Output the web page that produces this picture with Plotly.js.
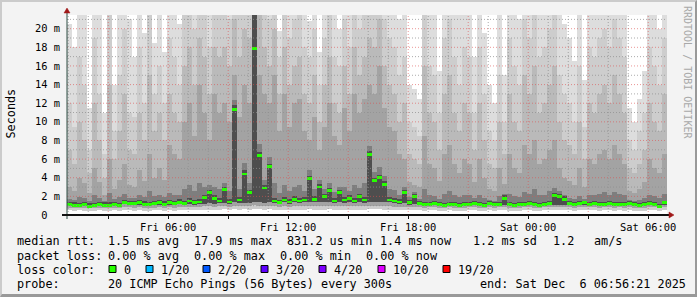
<!DOCTYPE html>
<html><head><meta charset="utf-8">
<script src="https://cdn.plot.ly/plotly-3.0.1.min.js"></script>
<style>
html,body{margin:0;padding:0;background:#f3f3f3;}
#wrap{position:relative;width:697px;height:297px;overflow:hidden;background:#f3f3f3;}
#chart{position:absolute;left:0;top:0;width:697px;height:297px;}
#frame{position:absolute;left:0;top:0;width:697px;height:297px;box-sizing:border-box;border-top:2px solid #cbcbcb;border-left:2px solid #cbcbcb;border-right:2px solid #999;border-bottom:3px solid #999;pointer-events:none;}
</style></head><body>
<div id="wrap"><div id="chart"></div><div id="frame"></div></div>
<script>
// ---------------- data (ms), one value per 15-minute bin, 120 bins ----------------
const smokeHi1 = [20.5,18.0,25,23,11.5,24,22,11.0,26,14.0, 23,25,21,17.0,24,19.5,27,18.5,23,17.5,
  24,25,20.5,26,28,25,30,27,24,29, 28,26,27,30,25,29,27,40,29,27,
  26,29,19.8,27,24,25,26,23,20.8,25, 17.5,24,26,22,20.0,25,23,27,24,26,
  27,25,29,26,24,23,21.0,25,14.0,13.5, 12.5,26,24,23,15.5,25,27,24,22,26,
  24,17.0,25,19.5,14.0,12.0,22,15.0,26,24, 21.0,26,25,27,24,25,26,28,22,20.5,
  19.0,16.5,23,14.5,25,24,26,25,24,27, 26,24,11.5,10.0,12.5,15.5,25,23,20.0,24];
const smokeHi2 = [12,9.5,17,14,7.0,19,13,6.5,22,9.0, 15,20,11,10.5,18,12,23,13,16,12,
  19,17,14,22,24,20,25,23,18,24, 22,24,21,26,22,25,24,32,26,23,
  21,25,17,23,19,21,22,18,17,20, 14,19,22,17,16,21,18,23,20,22,
  23,22,25,21,19,18,15,17,10,9.5, 8.5,22,16,15,11,19,21,17,14,18,
  17,11,18,13,9.0,8.0,15,10,19,16, 14,21,19,22,17,18,20,22,15,13,
  12,10,16,9.5,18,17,19,20,18,21, 19,17,8.0,7.0,9.0,11,18,16,14,19];
const smokeHi3 = [7,5.5,10,8,4.5,12,8,4.0,14,6, 9,13,7,6.5,11,8,15,9,11,8,
  13,11,10,16,18,14,19,17,13,18, 17,18,16,21,17,20,19,30,22,18,
  16,20,13,18,14,16,17,13,12,15, 10,14,17,12,11,16,13,18,15,17,
  19,18,21,16,14,13,10,12,6.5,6.0, 5.5,16,11,10,7,13,15,11,9,12,
  11,7,12,8,5.5,5.0,10,6.5,13,10, 9,15,13,16,11,12,14,16,10,8,
  7.5,6.5,10,6,12,11,13,14,12,15, 13,11,5.0,4.5,5.5,7,12,10,9,13];
const smokeHi4 = [3.0,2.6,4.0,3.4,2.4,5.0,3.5,2.2,6.0,2.8, 3.8,5.5,3.2,3.0,4.8,3.6,6.5,4.0,5.0,3.8,
  7.5,6.5,6.0,10,12,8.5,14,11,8,13, 11,12,10,15,10.5,14,12,28,15,13,
  12,15,9,13,9.5,12,12.5,9,8,10.5, 7,9.5,12,8.5,7.5,11.5,9,13,11,12.5,
  14,13,16,11.5,9.5,9,6.5,6.0,3.5,3.2, 3.0,8.5,5.5,5.0,3.6,6.5,7.5,5.5,4.5,6.0,
  5.5,3.5,6.0,4.0,2.8,2.6,5.0,3.3,6.5,5.0, 4.5,7.5,6.5,8.0,5.5,6.0,7.0,8.0,5.0,4.0,
  3.6,3.2,5.0,3.0,6.0,5.5,6.5,7.0,6.0,7.5, 6.5,5.5,2.6,2.4,2.8,3.5,6.0,5.0,4.5,6.5];
const smokeHi5 = [1.7,1.6,1.9,1.8,1.5,2.2,1.8,1.5,2.4,1.7, 1.9,2.3,1.8,1.8,2.1,1.9,2.6,2.0,2.2,1.9,
  2.4,2.1,2.2,2.8,3.2,2.6,3.4,3.0,3.2,3.0, 2.8,3.4,2.6,12.3,2.8,5.6,3.4,25,7.6,3.8,
  6.2,3.4,2.4,3.2,2.6,3.0,3.2,2.6,4.8,2.8, 3.8,2.8,3.4,2.5,3.0,3.0,2.6,3.2,2.9,3.4,
  7.4,4.6,5.2,4.2,2.8,2.7,2.2,3.0,1.9,2.5, 1.7,2.8,2.1,2.0,1.7,2.3,2.6,2.1,1.9,2.2,
  2.1,1.8,2.2,1.8,1.6,1.5,2.0,2.3,2.3,2.0, 1.9,2.5,2.3,2.8,2.1,2.2,2.6,2.9,2.6,2.2,
  1.8,1.7,2.0,1.7,2.2,2.1,2.3,2.5,2.2,2.5, 2.3,2.1,1.6,1.5,1.6,1.8,2.2,2.0,1.8,2.3];
const smokeHi6 = [1.4,1.35,1.3,1.4,1.25,1.3,1.4,1.35,1.35,1.4, 1.3,1.65,1.55,1.5,1.6,1.45,1.4,1.5,1.6,1.45,
  1.6,1.5,1.7,1.55,1.85,1.6,1.7,2.2,2.7,2.1, 1.8,3.0,1.7,11.8,1.9,4.8,2.7,24,6.8,3.2,
  5.5,1.8,1.6,1.9,1.7,2.0,1.8,1.9,4.2,2.0, 3.3,2.3,2.9,1.8,2.7,1.9,2.1,1.8,2.3,1.9,
  6.9,4.0,4.3,3.6,1.9,1.8,1.7,2.7,1.6,2.3, 1.45,1.35,1.4,1.45,1.35,1.3,1.4,1.35,1.25,1.35,
  1.4,1.45,1.35,1.3,1.45,1.35,1.4,2.1,1.35,1.3, 1.35,1.4,1.45,1.35,1.3,1.4,1.45,2.4,2.3,2.0,
  1.45,1.35,1.5,1.55,1.4,1.45,1.35,1.4,1.45,1.35, 1.4,1.35,1.45,1.35,1.3,1.35,1.45,1.4,1.2,1.55];
const smokeLoA = [0.50,0.45,0.50,0.48,0.42,0.46,0.50,0.47,0.44,0.50, 0.46,0.52,0.50,0.48,0.52,0.47,0.45,0.50,0.52,0.48,
  0.50,0.48,0.52,0.50,0.55,0.50,0.52,0.55,0.58,0.54, 0.55,0.60,0.55,0.62,0.56,0.60,0.58,0.65,0.62,0.58,
  0.60,0.56,0.52,0.58,0.55,0.58,0.56,0.57,0.60,0.56, 0.58,0.57,0.60,0.55,0.58,0.56,0.57,0.55,0.58,0.56,
  0.62,0.60,0.60,0.58,0.56,0.55,0.52,0.55,0.50,0.52, 0.50,0.48,0.50,0.52,0.47,0.46,0.50,0.48,0.45,0.48,
  0.50,0.52,0.48,0.46,0.50,0.48,0.50,0.55,0.48,0.46, 0.48,0.50,0.52,0.48,0.46,0.50,0.52,0.56,0.55,0.52,
  0.50,0.48,0.52,0.54,0.50,0.52,0.48,0.50,0.52,0.48, 0.50,0.48,0.52,0.48,0.46,0.48,0.52,0.50,0.42,0.55];
const smokeLoB = [0.78,0.74,0.72,0.78,0.70,0.72,0.78,0.75,0.72,0.78, 0.72,0.85,0.82,0.80,0.84,0.78,0.76,0.80,0.84,0.78,
  0.84,0.80,0.86,0.82,0.90,0.84,0.88,0.92,0.95,0.90, 0.92,0.98,0.90,1.00,0.92,0.98,0.95,1.05,1.00,0.96,
  1.00,0.94,0.88,0.96,0.90,0.96,0.92,0.95,0.98,0.94, 0.96,0.95,0.98,0.92,0.96,0.93,0.95,0.92,0.96,0.93,
  1.00,0.98,0.98,0.95,0.92,0.90,0.88,0.90,0.84,0.86, 0.84,0.80,0.82,0.84,0.78,0.76,0.82,0.80,0.74,0.80,
  0.82,0.84,0.80,0.76,0.84,0.80,0.82,0.88,0.80,0.76, 0.80,0.82,0.86,0.80,0.76,0.82,0.86,0.90,0.88,0.85,
  0.84,0.80,0.86,0.88,0.82,0.84,0.80,0.82,0.86,0.80, 0.82,0.80,0.86,0.80,0.76,0.80,0.86,0.82,0.70,0.90];
const smokeLoC = [0.96,0.92,0.88,0.96,0.84,0.88,0.96,0.92,0.88,0.96, 0.88,1.15,1.08,1.04,1.12,1.00,0.96,1.04,1.12,1.00,
  1.12,1.04,1.15,1.08,1.20,1.12,1.18,1.20,1.25,1.20, 1.25,1.30,1.20,1.35,1.28,1.32,1.30,1.40,1.35,1.30,
  1.35,1.30,1.15,1.35,1.22,1.38,1.30,1.35,1.40,1.36, 1.38,1.35,1.40,1.30,1.35,1.32,1.40,1.30,1.38,1.32,
  1.40,1.38,1.38,1.35,1.36,1.30,1.22,1.30,1.12,1.20, 1.05,0.96,1.00,1.05,0.96,0.92,1.00,0.96,0.86,0.96,
  1.00,1.05,0.96,0.92,1.05,0.96,1.00,1.10,0.96,0.92, 0.96,1.00,1.05,0.96,0.92,1.00,1.05,1.10,1.10,1.08,
  1.05,0.96,1.08,1.12,1.00,1.05,0.96,1.00,1.05,0.96, 1.00,0.96,1.05,0.96,0.92,0.96,1.05,1.00,0.82,1.12];
const medianRtt = [1.1,1.05,1.0,1.1,0.95,1.0,1.1,1.05,1.0,1.1, 1.0,1.35,1.25,1.2,1.3,1.15,1.1,1.2,1.3,1.15,
  1.3,1.2,1.35,1.25,1.5,1.3,1.4,1.9,2.4,1.8, 1.5,2.7,1.4,11.3,1.6,4.4,2.4,17.9,6.4,2.9,
  5.2,1.5,1.3,1.6,1.4,1.7,1.5,1.6,3.9,1.7, 3.0,2.0,2.6,1.5,2.4,1.6,1.8,1.5,2.0,1.6,
  6.5,3.7,4.0,3.3,1.6,1.5,1.4,2.4,1.3,2.0, 1.2,1.1,1.15,1.2,1.1,1.05,1.15,1.1,1.0,1.1,
  1.15,1.2,1.1,1.05,1.2,1.1,1.15,1.8,1.1,1.05, 1.1,1.15,1.2,1.1,1.05,1.15,1.2,2.1,2.0,1.7,
  1.2,1.1,1.25,1.3,1.15,1.2,1.1,1.15,1.2,1.1, 1.15,1.1,1.2,1.1,1.05,1.1,1.2,1.15,0.95,1.3];

const xTickVals = ['2025-12-05 03:00','2025-12-05 06:00','2025-12-05 09:00','2025-12-05 12:00','2025-12-05 15:00',
  '2025-12-05 18:00','2025-12-05 21:00','2025-12-06 00:00','2025-12-06 03:00','2025-12-06 06:00'];
const xTickText = ['','Fri 06:00','','Fri 12:00','','Fri 18:00','','Sat 00:00','','Sat 06:00'];
const yTickVals = [0,2,4,6,8,10,12,14,16,18,20];
const yTickText = ['0  ','2 m','4 m','6 m','8 m','10 m','12 m','14 m','16 m','18 m','20 m'];

const rttLabels = ['median rtt:','1.5 ms avg','17.9 ms max','831.2 us min','1.4 ms now','1.2 ms sd','1.2','am/s'];
const lossLabels = ['packet loss:','0.00 % avg','0.00 % max','0.00 % min','0.00 % now'];
const lossColorNames = ['0','1/20','2/20','3/20','4/20','10/20','19/20'];
const lossColors = ['#26ff00','#00b8ff','#0059ff','#5e00ff','#7e00ff','#dd00ff','#ff0000'];
const probeLabels = ['probe:','20 ICMP Echo Pings (56 Bytes) every 300s','end: Sat Dec  6 06:56:21 2025'];

// ---------------- layout geometry ----------------
const W = 697, H = 297, PL = 67, PR = 667, PT = 15, PB = 215;
const PW = PR - PL, PH = PB - PT;
const startMs = Date.UTC(2025, 11, 5, 0, 56, 21);
const endMs = Date.UTC(2025, 11, 6, 6, 56, 21);
const binMs = 15 * 60000;
const yMax = 21.47;
const binX = medianRtt.map((_, i) => startMs + (i + 0.5) * binMs);

function px2x(px){ return (px - PL) / PW; }
function py2y(py){ return (PB - py) / PH; }
function nb(s){ return s.replace(/ /g, '\u00a0'); }

const mono = 'DejaVu Sans Mono';
const legendFont = {family: mono, size: 11.8, color: '#000'};

const layers = [
  {hi: smokeHi1, lo: smokeLoA, color: '#dddddd'},
  {hi: smokeHi2, lo: smokeLoA, color: '#cdcdcd'},
  {hi: smokeHi3, lo: smokeLoB, color: '#bababa'},
  {hi: smokeHi4, lo: smokeLoB, color: '#a3a3a3'},
  {hi: smokeHi5, lo: smokeLoC, color: '#7e7e7e'},
  {hi: smokeHi6, lo: smokeLoC, color: '#4e4e4e'}
];
const traces = layers.map(L => ({
  type: 'bar', x: binX, base: L.lo, y: L.hi.map((v, i) => v - L.lo[i]),
  width: binMs, marker: {color: L.color, line: {width: 0}}, hoverinfo: 'skip', showlegend: false
}));
const medHalf = 0.15;
traces.push({
  type: 'bar', x: binX, base: medianRtt.map(v => v - medHalf), y: medianRtt.map(() => 2 * medHalf),
  width: binMs, marker: {color: lossColors[0], line: {width: 0}}, hoverinfo: 'skip', showlegend: false
});

// ---------------- grid (drawn above the smoke, like rrdtool) ----------------
const shapes = [];
const minorCol = 'rgba(143,143,143,0.75)', majorCol = 'rgba(222,80,80,0.6)';
for (let h = 1; h <= 30; h++) {
  const t = Date.UTC(2025, 11, 5, h);
  shapes.push({type: 'line', layer: 'above', xref: 'x', yref: 'paper', x0: t, x1: t, y0: 0, y1: 1,
    line: {color: h % 3 === 0 ? majorCol : minorCol, width: 1, dash: '1px,2px'}});
}
for (let v = 1; v <= 21; v++) {
  shapes.push({type: 'line', layer: 'above', xref: 'paper', yref: 'y', x0: 0, x1: 1, y0: v, y1: v,
    line: {color: v % 2 === 0 ? majorCol : minorCol, width: 1, dash: '1px,2px'}});
}
// axes
shapes.push({type: 'line', layer: 'above', xref: 'paper', yref: 'paper', x0: 0, x1: 0, y0: py2y(219), y1: py2y(12),
  line: {color: '#2c4d43', width: 1}});
shapes.push({type: 'line', layer: 'above', xref: 'paper', yref: 'paper', x0: px2x(62), x1: px2x(669), y0: 0, y1: 0,
  line: {color: '#111', width: 2}});
// arrows
const arrowCol = '#a01818';
shapes.push({type: 'path', layer: 'above', xref: 'paper', yref: 'paper',
  path: `M ${px2x(67)},${py2y(8)} L ${px2x(64)},${py2y(13)} L ${px2x(70)},${py2y(13)} Z`,
  fillcolor: arrowCol, line: {color: arrowCol, width: 0.5}});
shapes.push({type: 'path', layer: 'above', xref: 'paper', yref: 'paper',
  path: `M ${px2x(674)},${py2y(215)} L ${px2x(669)},${py2y(212)} L ${px2x(669)},${py2y(218)} Z`,
  fillcolor: arrowCol, line: {color: arrowCol, width: 0.5}});

// ---------------- legend text ----------------
const annotations = [];
function txt(s, px, py, extra) {
  annotations.push(Object.assign({text: nb(s), xref: 'paper', yref: 'paper', x: px2x(px), y: py2y(py),
    xanchor: 'left', yanchor: 'middle', showarrow: false, font: legendFont, borderpad: 0}, extra || {}));
}
const rttX = [16, 107, 193, 286, 379, 472, 552, 593];
rttLabels.forEach((s, i) => txt(s, rttX[i], 241));
const lossX = [16, 107, 193, 279, 365];
lossLabels.forEach((s, i) => txt(s, lossX[i], 255.5));
txt('loss color:', 16, 269.5);
const sqX = [109, 146, 203, 261, 319, 378, 443];
lossColorNames.forEach((s, i) => {
  shapes.push({type: 'rect', layer: 'above', xref: 'paper', yref: 'paper',
    x0: px2x(sqX[i]), x1: px2x(sqX[i] + 7), y0: py2y(272.5), y1: py2y(265.5),
    fillcolor: lossColors[i], line: {color: '#000', width: 1}});
  txt(s, sqX[i] + 14, 269.5);
});
const probeX = [16, 107, 479];
probeLabels.forEach((s, i) => txt(s, probeX[i], 283.5));
// axis title & watermark
annotations.push({text: 'Seconds', xref: 'paper', yref: 'paper', x: px2x(10.5), y: py2y(114), textangle: -90,
  xanchor: 'center', yanchor: 'middle', showarrow: false, font: {family: mono, size: 11.8, color: '#000'}});
annotations.push({text: nb('RRDTOOL / TOBI OETIKER'), xref: 'paper', yref: 'paper', x: px2x(688), y: py2y(72), textangle: 90,
  xanchor: 'center', yanchor: 'middle', showarrow: false, font: {family: mono, size: 10, color: '#a8a8a8'}});

const layout = {
  width: W, height: H,
  margin: {l: PL, r: W - PR, t: PT, b: H - PB, pad: 0},
  paper_bgcolor: '#f3f3f3', plot_bgcolor: '#ffffff',
  barmode: 'overlay', bargap: 0, showlegend: false,
  xaxis: {type: 'date', range: [startMs, endMs], tickvals: xTickVals, ticktext: xTickText,
    ticks: 'outside', ticklen: 3, tickcolor: '#111', tickwidth: 1,
    showgrid: false, zeroline: false, showline: false, fixedrange: true,
    tickfont: {family: mono, size: 10.4, color: '#000'}},
  yaxis: {range: [0, yMax], tickvals: yTickVals, ticktext: yTickText.map(nb), ticks: '',
    showgrid: false, zeroline: false, showline: false, fixedrange: true, ticklabelstandoff: 6,
    tickfont: {family: mono, size: 10.4, color: '#000'}},
  shapes: shapes, annotations: annotations
};
Plotly.newPlot('chart', traces, layout, {staticPlot: true, displayModeBar: false});
</script>
</body></html>
